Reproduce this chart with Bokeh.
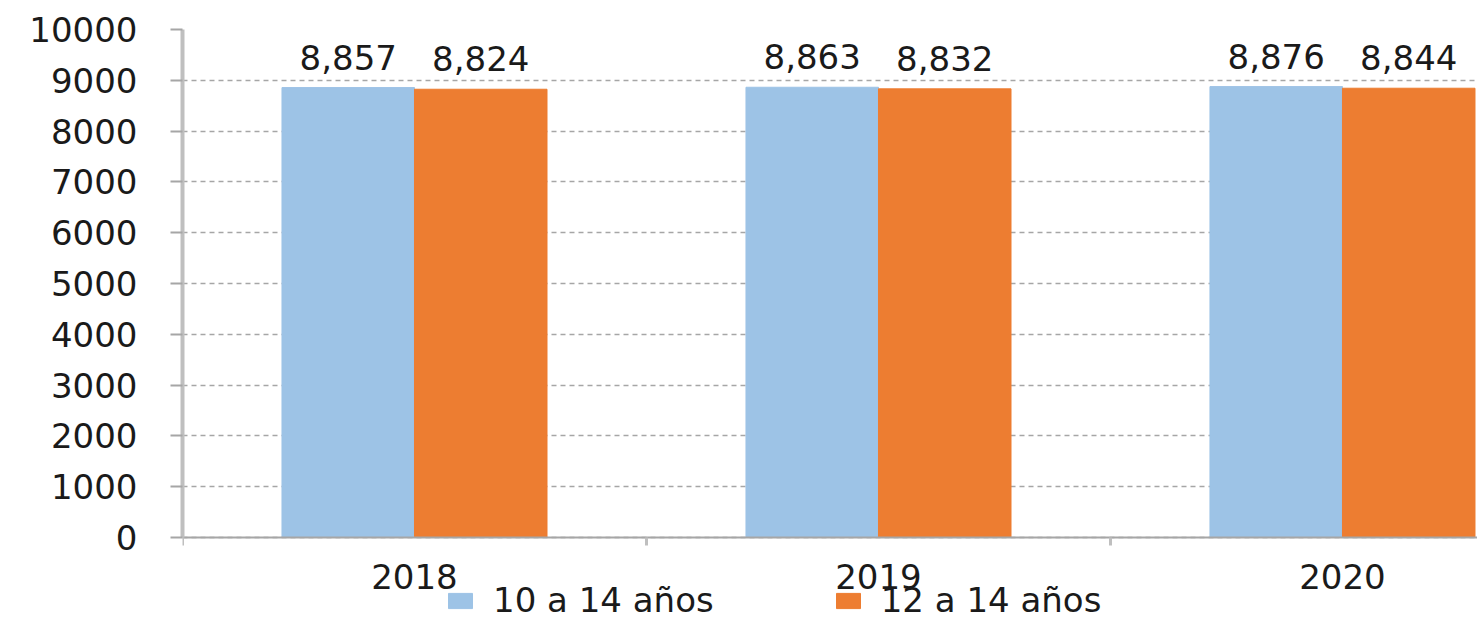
from bokeh.plotting import figure
from bokeh.models import (ColumnDataSource, FixedTicker, LabelSet, Legend,
                          LegendItem, Range1d)
from bokeh.core.properties import value
from bokeh.embed import file_html
from bokeh.resources import INLINE

# ---- data ----
years = ["2018", "2019", "2020"]
serie_10_14 = [8857, 8863, 8876]
serie_12_14 = [8824, 8832, 8844]
series_names = ["10 a 14 años", "12 a 14 años"]
y_ticks = [0, 1000, 2000, 3000, 4000, 5000, 6000, 7000, 8000, 9000, 10000]

# ---- style ----
FONT = "DejaVu Sans"
TXT = "#1a1a1a"
FS = "34px"
BLUE = "#9DC3E6"
ORANGE = "#ED7D31"
BW = 0.2856
Y_MAX = 10000
Y_MIN = -1653.5   # room under the baseline for category labels + legend

W, H = 1477, 621
p = figure(width=W, height=H, output_backend="svg", toolbar_location=None,
           x_range=Range1d(0, 2.791), y_range=Range1d(Y_MIN, Y_MAX),
           min_border_left=182, min_border_right=0, min_border_top=29,
           min_border_bottom=0)
p.outline_line_color = None
p.background_fill_color = "white"
p.border_fill_color = "white"

centers = [i + 0.5 for i in range(len(years))]
x1 = [c - BW / 2 for c in centers]
x2 = [c + BW / 2 for c in centers]

src1 = ColumnDataSource(dict(x=x1, top=serie_10_14,
                             lab=[f"{v:,}" for v in serie_10_14]))
src2 = ColumnDataSource(dict(x=x2, top=serie_12_14,
                             lab=[f"{v:,}" for v in serie_12_14]))

r1 = p.vbar(x="x", top="top", bottom=0, width=BW, source=src1,
            fill_color=BLUE, line_color=BLUE)
r2 = p.vbar(x="x", top="top", bottom=0, width=BW, source=src2,
            fill_color=ORANGE, line_color=ORANGE)

for s in (src1, src2):
    p.add_layout(LabelSet(x="x", y="top", text="lab", source=s,
                          text_align="center", text_baseline="alphabetic",
                          y_offset=18, text_font=value(FONT),
                          text_font_size=value(FS), text_color=TXT))

# grid
p.xgrid.visible = False
p.ygrid.ticker = FixedTicker(ticks=y_ticks)
p.ygrid.grid_line_color = "#A6A6A6"
p.ygrid.grid_line_dash = "5 4"
p.ygrid.grid_line_width = 1.5

# y axis
ya = p.yaxis[0]
ya.ticker = FixedTicker(ticks=y_ticks)
ya.bounds = (0, Y_MAX)
ya.axis_line_color = "#BFBFBF"
ya.axis_line_width = 4
ya.major_tick_out = 12
ya.major_tick_in = 0
ya.major_tick_line_color = "#A6A6A6"
ya.major_tick_line_width = 2
ya.minor_tick_line_color = None
ya.major_label_standoff = 33
ya.major_label_text_font = FONT
ya.major_label_text_font_size = FS
ya.major_label_text_color = TXT

# x axis (fixed at the zero baseline)
xa = p.xaxis[0]
xa.fixed_location = 0
xa.ticker = FixedTicker(ticks=centers, minor_ticks=[0, 1, 2])
xa.major_label_overrides = {c: y for c, y in zip(centers, years)}
xa.axis_line_color = "#A6A6A6"
xa.axis_line_width = 2
xa.major_tick_line_color = None
xa.major_tick_out = 0
xa.major_tick_in = 0
xa.minor_tick_out = 8
xa.minor_tick_in = 0
xa.minor_tick_line_color = "#BFBFBF"
xa.minor_tick_line_width = 3
xa.major_label_standoff = 18
xa.major_label_text_font = FONT
xa.major_label_text_font_size = FS
xa.major_label_text_color = TXT

legend = Legend(items=[LegendItem(label=series_names[0], renderers=[r1]),
                       LegendItem(label=series_names[1], renderers=[r2])],
                location=(263, 1), orientation="horizontal",
                padding=0, margin=0, border_line_color=None,
                background_fill_alpha=0, glyph_width=30, glyph_height=19,
                label_standoff=18, spacing=119,
                label_text_font=FONT, label_text_font_size=FS,
                label_text_color=TXT)
p.add_layout(legend)

open("out.html", "w").write(file_html(p, INLINE))
